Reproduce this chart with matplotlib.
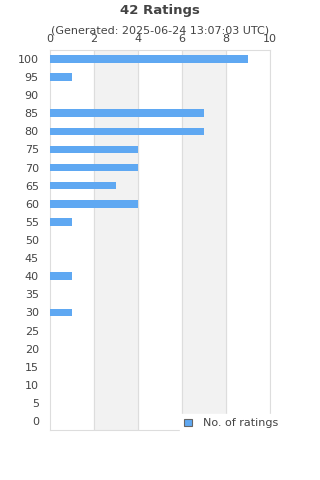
import matplotlib.pyplot as plt
import numpy as np

ratings = [100, 95, 90, 85, 80, 75, 70, 65, 60, 55, 50, 45, 40, 35, 30, 25, 20, 15, 10, 5, 0]
counts = [9, 1, 0, 7, 7, 4, 4, 3, 4, 1, 0, 0, 1, 0, 1, 0, 0, 0, 0, 0, 0]
x_ticks = [0, 2, 4, 6, 8, 10]

text_color = "#444444"
grid_color = "#dddddd"
bar_color = "#5fa8f2"

fig = plt.figure(figsize=(3.2, 4.8), dpi=100)
ax = fig.add_axes([0.156, 0.104, 0.6875, 0.792])

# rows from top (100) to bottom (0)
ypos = np.arange(len(ratings))[::-1]
ax.barh(ypos, counts, height=0.42, color=bar_color, label="No. of ratings", zorder=3)

# alternating bands
for i in range(len(x_ticks) - 1):
    if i % 2 == 1:
        ax.axvspan(x_ticks[i], x_ticks[i + 1], color="#f2f2f2", zorder=0)
for t in x_ticks[1:]:
    ax.axvline(t, color=grid_color, lw=0.8, zorder=1)

ax.set_xlim(0, 10)
ax.set_ylim(-0.5, len(ratings) - 0.5)
ax.set_xticks(x_ticks)
ax.set_yticks(ypos)
ax.set_yticklabels([str(r) for r in ratings])
ax.xaxis.tick_top()
ax.tick_params(axis="both", length=0, labelsize=8, colors=text_color)
ax.tick_params(axis="x", pad=4.5)
ax.tick_params(axis="y", pad=8)
for s in ax.spines.values():
    s.set_color(grid_color)
    s.set_linewidth(0.8)

fig.text(0.5, 0.978, "42 Ratings", ha="center", va="center",
         fontsize=9.5, fontweight="bold", color=text_color)
fig.text(0.5, 0.937, "(Generated: 2025-06-24 13:07:03 UTC)", ha="center", va="center",
         fontsize=8, color=text_color)

leg = ax.legend(loc="lower right", bbox_to_anchor=(1.085, -0.022), fontsize=8,
                frameon=True, fancybox=False, framealpha=1, edgecolor="white",
                handlelength=0.7, handleheight=0.7, borderpad=0.4, handletextpad=1.0)
leg.get_patches()[0].set_edgecolor("#666666")
leg.get_patches()[0].set_linewidth(0.8)
for t in leg.get_texts():
    t.set_color(text_color)

fig.savefig("out.png", dpi=100)
